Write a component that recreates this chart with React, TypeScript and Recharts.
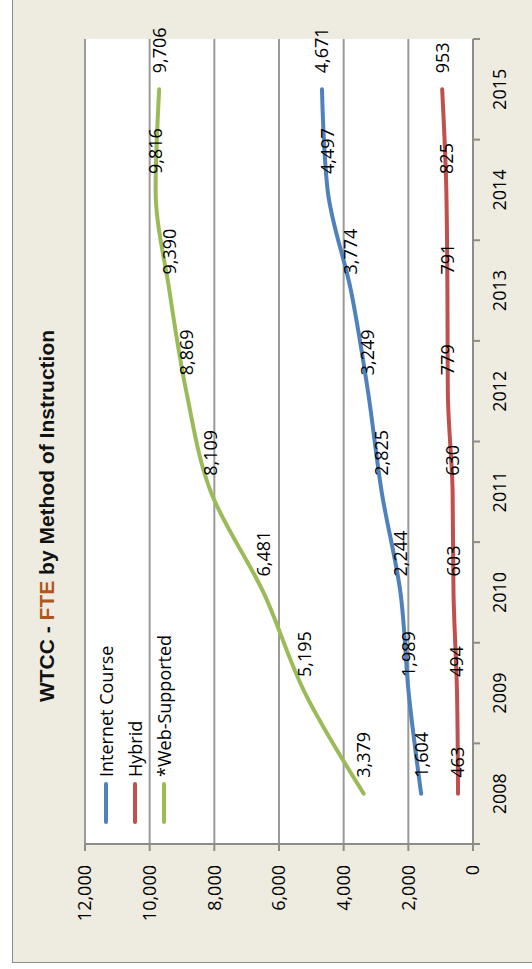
import React from 'react';
import { LineChart, Line, XAxis, YAxis, CartesianGrid, Legend, LabelList } from 'recharts';

// Data (FTE per year)
const years = ['2008', '2009', '2010', '2011', '2012', '2013', '2014', '2015'];
const internetCourse = [1604, 1989, 2244, 2825, 3249, 3774, 4497, 4671];
const hybrid = [463, 494, 603, 630, 779, 791, 825, 953];
const webSupported = [3379, 5195, 6481, 8109, 8869, 9390, 9816, 9706];
const valueTicks = [0, 2000, 4000, 6000, 8000, 10000, 12000];
const seriesNames = ['Internet Course', 'Hybrid', '*Web-Supported'];

const chartData = years.map((year, i) => ({
  year,
  internet: internetCourse[i],
  hybrid: hybrid[i],
  web: webSupported[i],
}));

// The original chart is landscape and the picture is it turned a quarter left,
// so the chart is drawn at 969x532 and rotated.
const W = 969;
const H = 532;
const PLOT_LEFT = 125;
const PLOT_RIGHT = 930;
const PLOT_TOP = 85;
const PLOT_BOTTOM = 473;
const Y_AXIS_W = 60;
const X_AXIS_H = 40;
const HALF_BAND = (PLOT_RIGHT - PLOT_LEFT) / years.length / 2;

const BEIGE = '#EEECE1';
const AXIS = '#8c8c8c';
const GRID = '#9a9a9a';
const FONT = "'Open Sans', sans-serif";
const fmt = (v: any) => Number(v).toLocaleString('en-US');

const YearTick = (props: any) => {
  const { x, y, payload, index } = props;
  const axisY = y - 20;
  return (
    <g>
      <line x1={x - HALF_BAND} x2={x - HALF_BAND} y1={axisY} y2={axisY + 7} stroke={AXIS} strokeWidth={2} />
      {index === years.length - 1 && (
        <line x1={x + HALF_BAND} x2={x + HALF_BAND} y1={axisY} y2={axisY + 7} stroke={AXIS} strokeWidth={2} />
      )}
      <text x={x} y={y} dy={13} textAnchor="middle" fontSize={18} fill="#000">
        {payload.value}
      </text>
    </g>
  );
};

const LegendBox = (props: any) => {
  // keep the series order, not the alphabetical one
  const items = [...(props.payload || [])].sort(
    (a: any, b: any) => seriesNames.indexOf(a.value) - seriesNames.indexOf(b.value)
  );
  return (
    <div style={{ fontFamily: FONT, fontSize: 18, color: '#000' }}>
      {items.map((p: any) => (
        <div key={p.value} style={{ display: 'flex', alignItems: 'center', height: 29, lineHeight: 1 }}>
          <svg width={42} height={8} style={{ marginRight: 5 }}>
            <line x1={2} x2={40} y1={4} y2={4} stroke={p.color} strokeWidth={4} strokeLinecap="round" />
          </svg>
          <span style={{ whiteSpace: 'nowrap' }}>{p.value}</span>
        </div>
      ))}
    </div>
  );
};

export default function App() {
  return (
    <div style={{ position: 'absolute', left: 0, top: 0, width: H, height: W, overflow: 'hidden', background: '#fff' }}>
      <div
        style={{
          position: 'absolute',
          left: 0,
          top: 0,
          width: W,
          height: H,
          transformOrigin: '0 0',
          transform: `translateY(${W}px) rotate(-90deg)`,
          fontFamily: FONT,
        }}
      >
        <div style={{ position: 'absolute', left: 6, top: 12, width: W + 20, height: H + 20, background: BEIGE, border: `1.5px solid ${AXIS}` }} />
        <div
          style={{
            position: 'absolute',
            left: 253,
            top: 36,
            width: 400,
            textAlign: 'center',
            fontFamily: "'Liberation Sans', Arial, sans-serif",
            fontWeight: 'bold',
            fontSize: 21,
            lineHeight: 1,
            color: '#111',
            whiteSpace: 'nowrap',
          }}
        >
          WTCC - <span style={{ color: '#B0561C' }}>FTE</span> by Method of Instruction
        </div>
        <div style={{ position: 'absolute', left: 0, top: 0 }}>
          <LineChart
            width={W}
            height={H}
            data={chartData}
            margin={{
              top: PLOT_TOP,
              right: W - PLOT_RIGHT,
              left: PLOT_LEFT - Y_AXIS_W,
              bottom: H - PLOT_BOTTOM - X_AXIS_H,
            }}
          >
            <CartesianGrid vertical={false} stroke={GRID} strokeWidth={2} fill="#fff" />
            <XAxis
              dataKey="year"
              height={X_AXIS_H}
              interval={0}
              padding={{ left: HALF_BAND, right: HALF_BAND }}
              axisLine={{ stroke: AXIS, strokeWidth: 2 }}
              tickLine={false}
              tickSize={7}
              tickMargin={13}
              tick={<YearTick />}
            />
            <YAxis
              width={Y_AXIS_W}
              domain={[0, 12000]}
              ticks={valueTicks}
              tickFormatter={fmt}
              axisLine={{ stroke: AXIS, strokeWidth: 2 }}
              tickLine={{ stroke: AXIS, strokeWidth: 2 }}
              tickSize={7}
              tickMargin={14}
              tick={{ fontSize: 18, fill: '#000' }}
            />
            <Legend
              layout="vertical"
              align="center"
              verticalAlign="middle"
              content={<LegendBox />}
              wrapperStyle={{ left: 145, top: 91.5, width: 'auto' }}
            />
            <Line type="monotone" dataKey="internet" name="Internet Course" stroke="#4F81BD" strokeWidth={4} strokeLinecap="round" dot={false} isAnimationActive={false}>
              <LabelList dataKey="internet" position="right" offset={16} formatter={fmt} fontSize={18} fill="#000" />
            </Line>
            <Line type="monotone" dataKey="hybrid" name="Hybrid" stroke="#C0504D" strokeWidth={4} strokeLinecap="round" dot={false} isAnimationActive={false}>
              <LabelList dataKey="hybrid" position="right" offset={16} formatter={fmt} fontSize={18} fill="#000" />
            </Line>
            <Line type="monotone" dataKey="web" name="*Web-Supported" stroke="#9BBB59" strokeWidth={4} strokeLinecap="round" dot={false} isAnimationActive={false}>
              <LabelList dataKey="web" position="right" offset={16} formatter={fmt} fontSize={18} fill="#000" />
            </Line>
          </LineChart>
        </div>
      </div>
    </div>
  );
}
